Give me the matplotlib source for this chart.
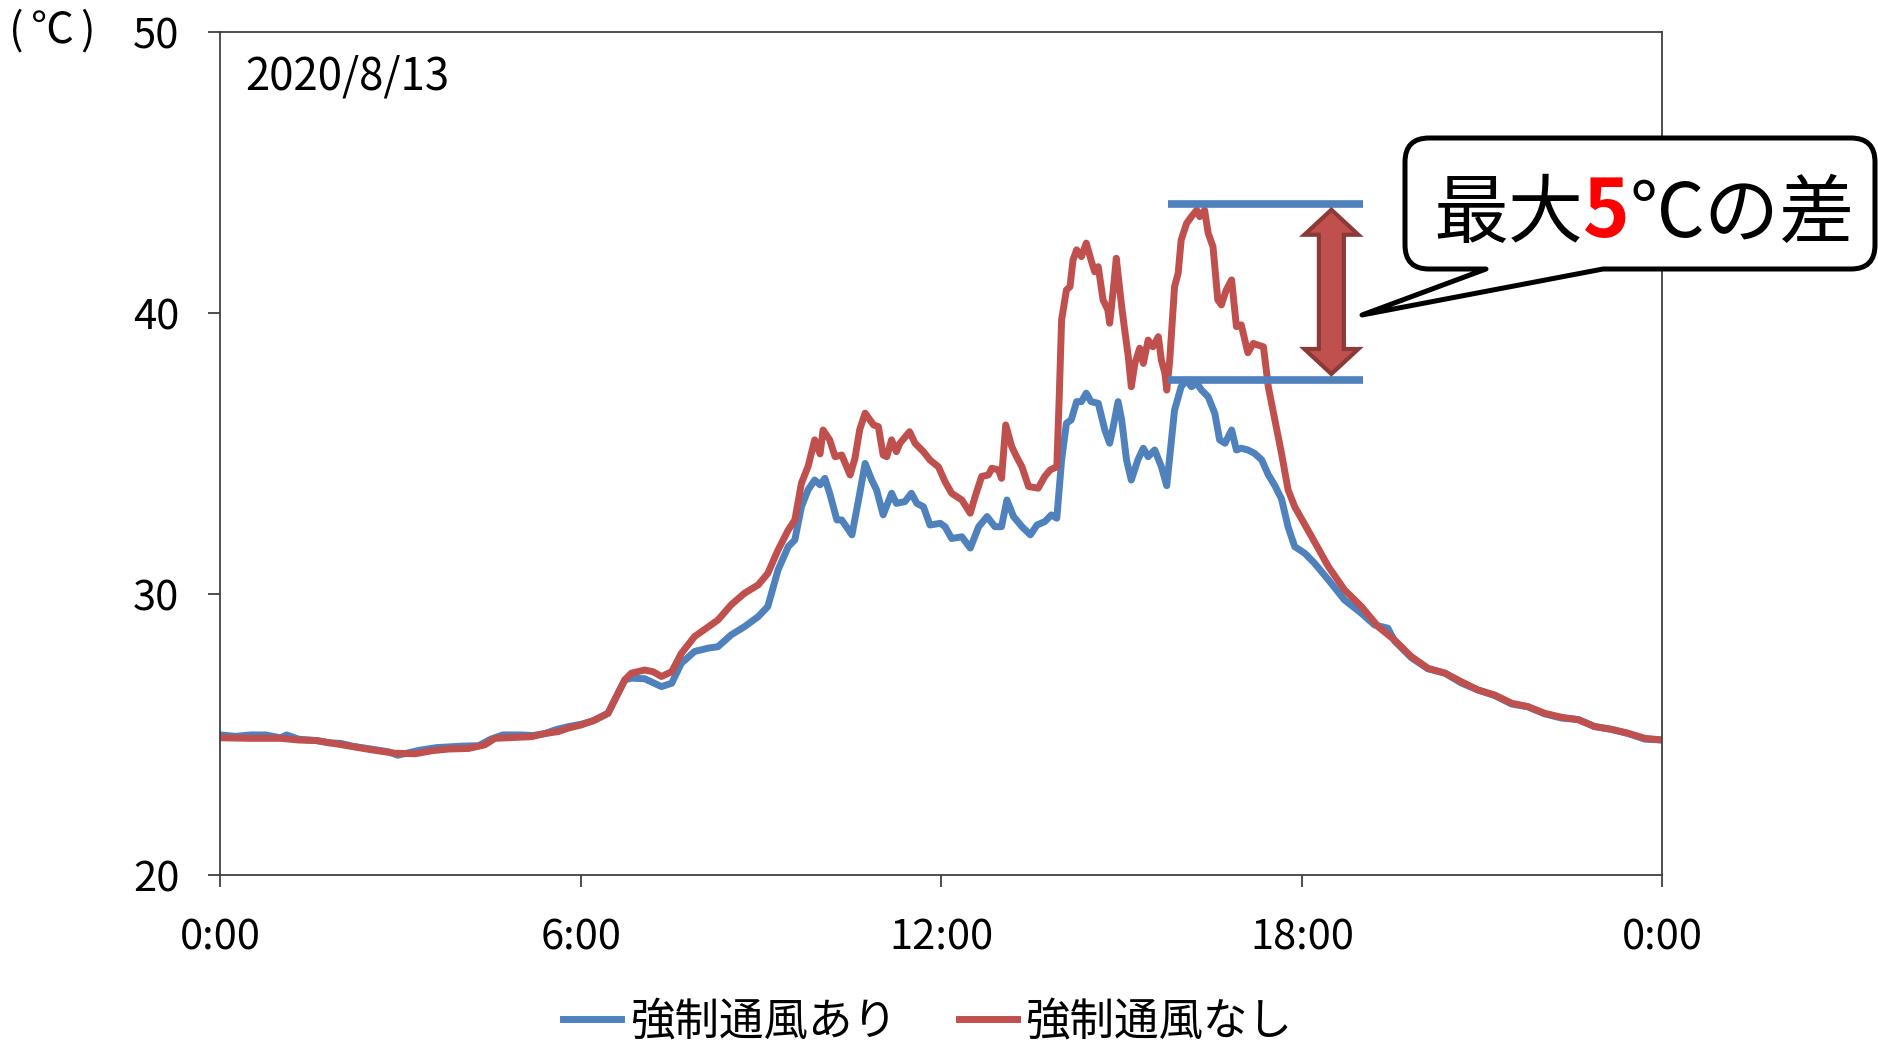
import matplotlib
matplotlib.use('Agg')
import matplotlib.pyplot as plt
from matplotlib.path import Path
from matplotlib.patches import PathPatch, Polygon
from matplotlib.transforms import IdentityTransform

plt.rcParams['font.family'] = ['Noto Sans CJK JP', 'DejaVu Sans']

# temperatures (hours since 0:00, deg C)
hours_vent = [0.0, 0.25, 0.5, 0.75, 1.0, 1.1, 1.3, 1.6, 1.8, 2.0, 2.2, 2.5, 2.8, 2.95, 3.1, 3.3,
              3.6, 4.0, 4.3, 4.5, 4.7, 5.0, 5.2, 5.4, 5.6, 5.8, 6.0, 6.2, 6.45, 6.62, 6.73, 6.84,
              7.06, 7.34, 7.51, 7.67, 7.89, 8.12, 8.28, 8.5, 8.72, 8.95, 9.11, 9.28, 9.45, 9.56,
              9.67, 9.78, 9.89, 9.98, 10.06, 10.14, 10.26, 10.34, 10.51, 10.62, 10.73, 10.84,
              10.92, 11.03, 11.17, 11.25, 11.39, 11.5, 11.59, 11.7, 11.81, 11.98, 12.06, 12.17,
              12.34, 12.48, 12.62, 12.76, 12.89, 13.0, 13.09, 13.2, 13.34, 13.48, 13.59, 13.72,
              13.83, 13.92, 14.0, 14.08, 14.16, 14.25, 14.33, 14.41, 14.49, 14.61, 14.72, 14.8,
              14.86, 14.94, 15.0, 15.08, 15.16, 15.27, 15.36, 15.44, 15.55, 15.66, 15.75, 15.8,
              15.88, 15.99, 16.08, 16.16, 16.25, 16.33, 16.44, 16.55, 16.63, 16.72, 16.83, 16.91,
              16.99, 17.1, 17.21, 17.33, 17.44, 17.55, 17.66, 17.77, 17.88, 18.05, 18.21, 18.44,
              18.71, 18.99, 19.21, 19.43, 19.54, 19.82, 20.1, 20.38, 20.65, 20.93, 21.21, 21.49,
              21.76, 22.04, 22.32, 22.6, 22.87, 23.15, 23.43, 23.71, 24.0]
temp_vent = [25.0, 24.95, 25.0, 25.0, 24.9, 25.0, 24.85, 24.8, 24.72, 24.7, 24.6, 24.5, 24.4, 24.28,
             24.35, 24.45, 24.55, 24.6, 24.62, 24.85, 25.0, 25.0, 24.98, 25.05, 25.2, 25.3, 25.38,
             25.5, 25.77, 26.5, 26.96, 27.02, 27.0, 26.72, 26.84, 27.55, 27.97, 28.09, 28.14,
             28.56, 28.85, 29.21, 29.57, 30.87, 31.7, 31.94, 33.12, 33.72, 34.07, 33.9, 34.13,
             33.6, 32.65, 32.65, 32.12, 33.36, 34.66, 34.07, 33.72, 32.83, 33.6, 33.24, 33.3,
             33.6, 33.24, 33.12, 32.47, 32.53, 32.41, 31.99, 32.05, 31.65, 32.41, 32.77, 32.41,
             32.41, 33.36, 32.77, 32.41, 32.12, 32.47, 32.59, 32.83, 32.71, 34.78, 36.09, 36.21,
             36.86, 36.86, 37.16, 36.86, 36.8, 35.85, 35.38, 35.97, 36.86, 36.21, 34.79, 34.07,
             34.79, 35.2, 34.9, 35.14, 34.55, 33.87, 34.9, 36.56, 37.39, 37.63, 37.39, 37.51,
             37.27, 37.03, 36.44, 35.5, 35.38, 35.85, 35.14, 35.2, 35.14, 35.02, 34.79, 34.26,
             33.87, 33.4, 32.4, 31.7, 31.46, 31.11, 30.52, 29.8, 29.33, 28.91, 28.8, 28.35, 27.75,
             27.35, 27.2, 26.85, 26.6, 26.4, 26.1, 26.0, 25.75, 25.6, 25.55, 25.3, 25.2, 25.05,
             24.85, 24.82]

hours_novent = [0.0, 0.5, 1.0, 1.3, 1.6, 1.8, 2.13, 2.52, 2.9, 3.24, 3.52, 3.8, 4.13, 4.4, 4.57,
                5.18, 5.4, 5.62, 5.8, 6.01, 6.23, 6.45, 6.62, 6.73, 6.84, 7.06, 7.2, 7.34, 7.51,
                7.67, 7.89, 8.12, 8.28, 8.5, 8.72, 8.95, 9.11, 9.28, 9.45, 9.56, 9.67, 9.78, 9.89,
                9.98, 10.03, 10.14, 10.23, 10.34, 10.48, 10.56, 10.64, 10.73, 10.87, 10.95, 11.03,
                11.09, 11.17, 11.25, 11.31, 11.47, 11.56, 11.7, 11.81, 11.95, 12.06, 12.17, 12.34,
                12.48, 12.56, 12.67, 12.78, 12.84, 12.95, 13.0, 13.07, 13.17, 13.25, 13.34, 13.45,
                13.61, 13.72, 13.81, 13.92, 13.96, 14.0, 14.08, 14.14, 14.19, 14.25, 14.33, 14.41,
                14.49, 14.55, 14.61, 14.69, 14.77, 14.8, 14.86, 14.91, 15.0, 15.05, 15.11, 15.16,
                15.22, 15.3, 15.36, 15.44, 15.52, 15.61, 15.66, 15.72, 15.75, 15.8, 15.88, 15.94,
                15.99, 16.08, 16.16, 16.25, 16.3, 16.38, 16.44, 16.52, 16.6, 16.66, 16.74, 16.83,
                16.91, 16.99, 17.1, 17.19, 17.27, 17.36, 17.44, 17.55, 17.66, 17.77, 17.88, 18.16,
                18.44, 18.71, 18.99, 19.27, 19.54, 19.82, 20.1, 20.38, 20.65, 20.93, 21.21, 21.49,
                21.76, 22.04, 22.32, 22.6, 22.87, 23.15, 23.43, 23.71, 24.0]
temp_novent = [24.9, 24.88, 24.88, 24.82, 24.8, 24.73, 24.61, 24.47, 24.35, 24.33, 24.44, 24.5,
               24.52, 24.65, 24.88, 24.94, 25.05, 25.12, 25.25, 25.36, 25.53, 25.77, 26.49, 26.96,
               27.2, 27.31, 27.25, 27.08, 27.25, 27.9, 28.5, 28.85, 29.09, 29.63, 30.04, 30.34,
               30.75, 31.58, 32.29, 32.65, 33.96, 34.55, 35.5, 35.0, 35.85, 35.5, 34.9, 34.96,
               34.25, 34.84, 35.87, 36.45, 36.03, 35.97, 34.96, 34.9, 35.5, 35.08, 35.38, 35.79,
               35.38, 35.08, 34.78, 34.54, 34.01, 33.6, 33.36, 32.89, 33.48, 34.2, 34.25, 34.49,
               34.43, 34.13, 36.03, 35.26, 34.9, 34.54, 33.84, 33.78, 34.2, 34.43, 34.54, 37.0,
               39.77, 40.83, 40.95, 41.9, 42.26, 42.02, 42.5, 41.9, 41.48, 41.66, 40.48, 40.12,
               39.65, 40.83, 41.96, 40.24, 39.41, 38.46, 37.39, 38.22, 38.76, 38.22, 39.05, 38.81,
               39.17, 38.34, 37.87, 37.27, 38.34, 40.95, 41.43, 42.61, 43.2, 43.44, 43.67, 43.44,
               43.67, 42.85, 42.37, 40.48, 40.3, 40.83, 41.19, 39.53, 39.59, 38.6, 38.93, 38.87,
               38.81, 37.39, 36.21, 35.02, 33.72, 33.12, 32.06, 30.99, 30.16, 29.57, 28.85, 28.38,
               27.79, 27.37, 27.2, 26.9, 26.6, 26.42, 26.13, 26.01, 25.77, 25.63, 25.54, 25.3,
               25.2, 25.06, 24.88, 24.82]

series_labels = ['強制通風あり', '強制通風なし']
tick_hours = [0, 6, 12, 18, 24]
tick_labels = ['0:00', '6:00', '12:00', '18:00', '0:00']
y_ticks = [20, 30, 40, 50]
gap_levels = [43.9, 37.63]      # blue marker lines: max with / without ventilation
gap_span = [15.77, 19.01]
date_text = '2020/8/13'
callout = ['最大', '5', '℃の差']
unit_parts = ['(', '℃', ')']

blue = '#4F81BD'
red = '#C0504D'
axis_c = '#404040'

fig = plt.figure(figsize=(18.78, 10.42), dpi=100)
ax = fig.add_axes([0.1174, 0.1598, 0.7678, 0.8092])

ax.plot(hours_vent, temp_vent, color=blue, lw=5, solid_joinstyle='round', label=series_labels[0])
ax.plot(hours_novent, temp_novent, color=red, lw=5, solid_joinstyle='round', label=series_labels[1])

ax.set_xlim(0, 24)
ax.set_ylim(20, 50)
ax.set_xticks(tick_hours)
ax.set_xticklabels(tick_labels)
ax.set_yticks(y_ticks)
ax.tick_params(axis='x', direction='out', length=8.6, width=1.3, color=axis_c, labelsize=30, pad=22)
ax.tick_params(axis='y', direction='out', length=8.6, width=1.3, color=axis_c, labelsize=30, pad=21)
for s in ax.spines.values():
    s.set_color(axis_c)
    s.set_linewidth(1.3)

ax.text(0.017, 0.9327, date_text, transform=ax.transAxes, fontsize=31.5, va='baseline')

# blue guide lines at the two maxima
ax.hlines(gap_levels, gap_span[0], gap_span[1], color=blue, lw=5.5, zorder=4)

# block double arrow between the lines (pixel geometry)
cx, ytop = ax.transData.transform((18.49, gap_levels[0]))
_, ybot = ax.transData.transform((18.49, gap_levels[1]))
ytop -= 6
ybot += 6
hw, tw, hl = 27, 12.5, 25
verts = [(cx, ytop), (cx + hw, ytop - hl), (cx + tw, ytop - hl), (cx + tw, ybot + hl),
         (cx + hw, ybot + hl), (cx, ybot), (cx - hw, ybot + hl), (cx - tw, ybot + hl),
         (cx - tw, ytop - hl), (cx - hw, ytop - hl)]
arrow = Polygon(verts, closed=True, facecolor=red, edgecolor='#8B3A38', lw=3,
                joinstyle='miter', transform=IdentityTransform(), zorder=5)
fig.add_artist(arrow)

# speech bubble (figure pixels, y up)
L, R, T, B, r = 1405, 1875, 904, 773, 24
bL, bR, tip = 1486, 1603, (1362, 727)
pts = [(L + r, T), (R - r, T), (R, T), (R, T - r), (R, B + r), (R, B), (R - r, B),
       (bR, B), tip, (bL, B), (L + r, B), (L, B), (L, B + r), (L, T - r), (L, T), (L + r, T)]
codes = [Path.MOVETO, Path.LINETO, Path.CURVE3, Path.CURVE3, Path.LINETO, Path.CURVE3, Path.CURVE3,
         Path.LINETO, Path.LINETO, Path.LINETO, Path.LINETO, Path.CURVE3, Path.CURVE3,
         Path.LINETO, Path.CURVE3, Path.CURVE3]
bubble = PathPatch(Path(pts, codes), facecolor='white', edgecolor='black', lw=3.6,
                   joinstyle='round', transform=IdentityTransform(), zorder=6)
fig.add_artist(bubble)

renderer = fig.canvas.get_renderer()
W = 1878
yb = 805 / 1042
x = 1433 / W
styles = [dict(color='black', fontsize=54), dict(color='#FF0000', fontweight='bold', fontsize=57),
          dict(color='black', fontsize=54)]
for part, st in zip(callout, styles):
    t = fig.text(x, yb, part, va='baseline', ha='left', zorder=7, **st)
    x = t.get_window_extent(renderer).x1 / W

# unit label "(℃)" top left
for part, xc in zip(unit_parts, [16, 52, 87]):
    fig.text(xc / W, 0.970, part, fontsize=31, va='center', ha='center')

fig.legend(loc='center', bbox_to_anchor=(0.494, 0.02), ncol=2, frameon=False, fontsize=32,
           handlelength=1.3, handletextpad=0.2, columnspacing=1.4, borderpad=0)

fig.savefig('out.png', dpi=100)
